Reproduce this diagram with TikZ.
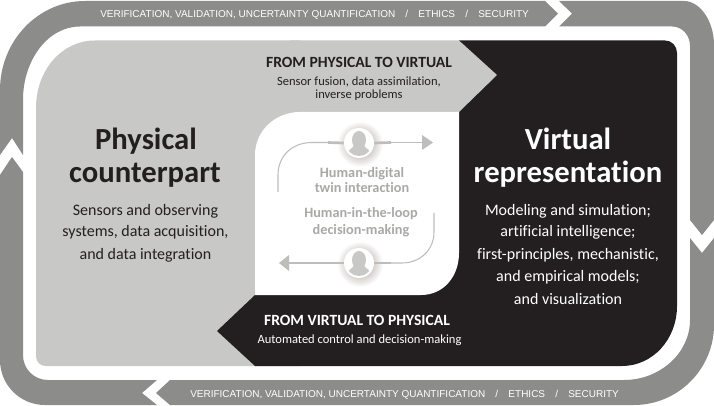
\documentclass[tikz,border=0pt]{standalone}
\usepackage{fontspec}
\setmainfont{Carlito}[Ligatures=NoCommon]
\newfontfamily\bandfont{Liberation Sans}
\definecolor{band}{HTML}{8C8C8B}
\definecolor{panel}{HTML}{C8C8C6}
\definecolor{ink}{HTML}{231F20}
\definecolor{soft}{HTML}{A9A9A7}
\definecolor{lineg}{HTML}{BDBDBB}
\definecolor{halo}{HTML}{9A8F88}
\newcommand{\sz}[1]{\fontsize{#1}{#1}\selectfont}
\tikzset{
  x=0.75pt,y=-0.75pt,
  ringseg/.style={fill=band,draw=none},
  bandtext/.style={text=white,font=\bandfont\sz{7.5},anchor=base west,inner sep=0pt},
  title/.style={font=\bfseries\sz{23},inner sep=0pt,anchor=base},
  bodytext/.style={font=\sz{12},inner sep=0pt,anchor=base},
  head/.style={font=\bfseries\sz{11.7},inner sep=0pt,anchor=base},
  sub/.style={font=\sz{9.4},inner sep=0pt,anchor=base},
  softtext/.style={font=\bfseries\sz{10.7},text=soft,inner sep=0pt,anchor=base},
  thinline/.style={draw=lineg,line width=0.8pt},
  thickline/.style={draw=lineg,line width=2pt},
  tipfill/.style={fill=lineg,draw=none},
  iconbase/.style={circle,fill=white,draw=none,minimum size=22.5pt,inner sep=0pt},
  silhouette/.style={fill=panel,draw=none},
}
\begin{document}
\begin{tikzpicture}
\useasboundingbox (0,0) rectangle (714,406);
% outer ring
\fill[ringseg] (0,155) -- (12,138) -- (23,155) -- (23,100) .. controls (23,60) and (48,26.5) .. (80,26.5) -- (545,26.5) -- (558,13.5) -- (545,1) -- (85,1) .. controls (38,1) and (0,41) .. (0,90) -- cycle;
\fill[ringseg] (559,1) -- (572,13.5) -- (559,26.5) -- (672,26.5) .. controls (682,26.5) and (690,35) .. (690,46) -- (690,220) -- (702,235) -- (714,220) -- (714,45) .. controls (714,21) and (700,1) .. (684,1) -- cycle;
\fill[ringseg] (690,238) -- (702,253) -- (714,238) -- (714,325) .. controls (714,369) and (678,405) .. (634,405) -- (170,405) -- (156,393) -- (170,380) -- (624,380) .. controls (660,380) and (690,353) .. (690,320) -- cycle;
\fill[ringseg] (157,380) -- (142,393) -- (157,405) -- (45,405) .. controls (20,405) and (0,385) .. (0,360) -- (0,175) -- (12,157) -- (23,172) -- (23,355) .. controls (23,369) and (34,380) .. (48,380) -- cycle;
% panels
\fill[panel] (36,356) .. controls (36,362) and (40,366) .. (46,366) -- (300,366) -- (300,40.5) -- (95,40.5) .. controls (62,40.5) and (36,70) .. (36,108) -- cycle;
\fill[ink] (217,331) -- (255,295) -- (300,295) -- (300,200) -- (459,112) -- (459,40.5) -- (665,40.5) .. controls (672,40.5) and (677,46) .. (677,53) -- (677,306) .. controls (677,339) and (653,366) .. (622,366) -- (255,366) -- cycle;
\fill[panel] (290,40.5) -- (459,40.5) -- (497,75) -- (459,112) -- (290,112) -- cycle;
% centre
\fill[white] (255,295) -- (255,155) .. controls (255,131) and (275,112) .. (300,112) -- (459,112) -- (459,253) .. controls (459,276) and (444,295) .. (421,295) -- cycle;
% icons
\foreach \cy/\nm in {143/iconup,263/icondown}{
  \shade[inner color=halo,outer color=white] (360,\cy+1) circle (23);
  \node[iconbase] (\nm) at (359,\cy) {};
  \begin{scope}
    \clip (359,\cy) circle (13);
    \fill[silhouette] (359,\cy+-3) ellipse (7 and 9);
    \fill[silhouette] (354,\cy+2) -- (364,\cy+2) .. controls (364.5,\cy+6) and (372,\cy+6) .. (372,\cy+15) -- (346,\cy+15) .. controls (346,\cy+6) and (353.5,\cy+6) .. (354,\cy+2) -- cycle;
  \end{scope}
}
% connectors
\coordinate (upstart) at (278,192);
\coordinate (upend) at (423,142.5);
\coordinate (upl) at (328,142.5);
\coordinate (upr) at (391,142.5);
\draw[thinline] (upstart) -- (278,175) .. controls (278,156) and (292,142.5) .. (312,142.5) -- (upl);
\draw[thickline] (upl) -- (iconup.west);
\draw[thickline] (iconup.east) -- (upr);
\draw[thinline] (upr) -- (upend);
\fill[tipfill] (422,135) -- (433,142.5) -- (422,150) -- cycle;
\coordinate (downstart) at (434,213);
\coordinate (downend) at (288,263);
\coordinate (downl) at (328,263);
\coordinate (downr) at (391,263);
\draw[thinline] (downstart) -- (434,232) .. controls (434,250) and (420,263) .. (402,263) -- (downr);
\draw[thickline] (downr) -- (icondown.east);
\draw[thickline] (icondown.west) -- (downl);
\draw[thickline,line width=1.1pt] (downl) -- (downend);
\fill[tipfill] (289,255) -- (279,263) -- (289,271) -- cycle;
% band text
\node[bandtext] (bt1) at (100,17.3) {VERIFICATION, VALIDATION, UNCERTAINTY QUANTIFICATION\hspace{1.02em}/\hspace{1.02em}ETHICS\hspace{1.02em}/\hspace{1.02em}SECURITY};
\node[bandtext] (bt2) at (190,397.3) {VERIFICATION, VALIDATION, UNCERTAINTY QUANTIFICATION\hspace{1.02em}/\hspace{1.02em}ETHICS\hspace{1.02em}/\hspace{1.02em}SECURITY};
% arrow text
\node[head,text=ink] (h1) at (359,68) {FROM PHYSICAL TO VIRTUAL};
\node[sub,text=ink] (s1) at (359,85.5) {Sensor fusion, data assimilation,};
\node[sub,text=ink] (s2) at (359,98.5) {inverse problems};
\node[head,text=white] (h2) at (357,325) {FROM VIRTUAL TO PHYSICAL};
\node[sub,text=white] (s3) at (359.5,343.7) {Automated control and decision-making};
% titles
\node[title,text=ink] (t1) at (146,150) {Physical};
\node[title,text=ink] (t2) at (145,182.7) {counterpart};
\node[title,text=white] (t3) at (568,150) {Virtual};
\node[title,text=white] (t4) at (568,182.7) {representation};
% bodies
\node[bodytext,text=ink] (b1) at (145.5,215) {Sensors and observing};
\node[bodytext,text=ink] (b2) at (145.5,237) {systems, data acquisition,};
\node[bodytext,text=ink] (b3) at (145.5,259) {and data integration};
\node[bodytext,text=white] (b4) at (568,215) {Modeling and simulation;};
\node[bodytext,text=white] (b5) at (568,237) {artificial intelligence;};
\node[bodytext,text=white] (b6) at (568,259) {first-principles, mechanistic,};
\node[bodytext,text=white] (b7) at (568,281) {and empirical models;};
\node[bodytext,text=white] (b8) at (568,304) {and visualization};
% centre text
\node[softtext] (c1) at (362,178) {Human-digital};
\node[softtext] (c2) at (362,193) {twin interaction};
\node[softtext] (c3) at (361,218) {Human-in-the-loop};
\node[softtext] (c4) at (361,234) {decision-making};
\end{tikzpicture}
\end{document}
